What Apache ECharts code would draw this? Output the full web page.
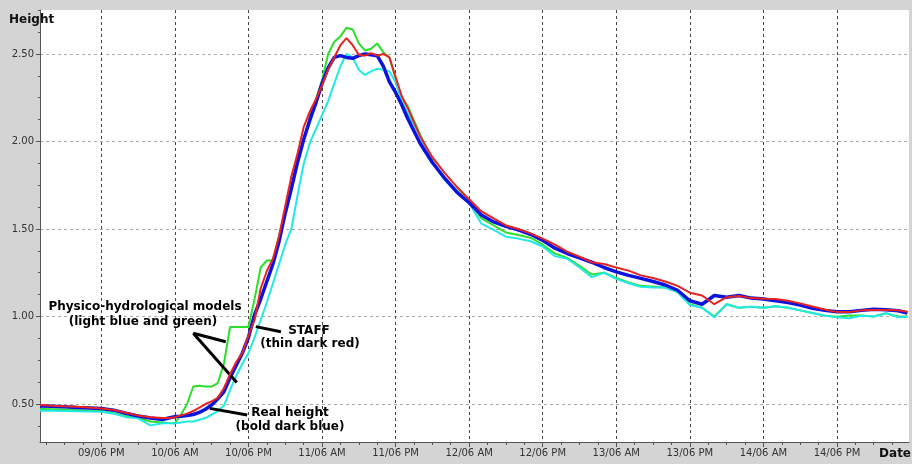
<!DOCTYPE html>
<html><head><meta charset="utf-8">
<script src="https://cdn.jsdelivr.net/npm/echarts@6/dist/echarts.min.js"></script>
<style>html,body{margin:0;padding:0;background:#d4d4d4}#c{width:912px;height:464px}</style>
</head><body><div id="c"></div>
<script>
// hours since 09/06 00:00
const hours = [2,4,6,8,10,12,14,16,18,20,22,
 23,24,25,26,27,28,29,30,31,32,33,34,35,36,37,38,39,40,41,42,43,44,45,46,47,48,49,50,51,52,53,54,55,56,57,58,59,60,61,62,
 64,66,68,70,72,74,76,78,80,82,84,86,88,90,92,94,96,98,100,102,104,106,108,110,112,114,116,118,120,122,124,126,128,130,132,134,136,138,140,142,143.5];

const realHeight = [0.489,0.487,0.484,0.480,0.477,0.474,0.465,0.447,0.432,0.420,0.412,
 0.420,0.428,0.430,0.435,0.440,0.452,0.470,0.495,0.530,0.570,
 0.650,0.720,0.790,0.880,1.010,1.100,1.200,1.300,1.430,1.590,
 1.730,1.880,2.010,2.120,2.220,2.330,2.420,2.480,2.490,2.480,
 2.475,2.490,2.500,2.495,2.490,2.430,2.340,2.280,2.210,2.130,
 1.990,1.880,1.790,1.710,1.650,1.580,1.540,1.515,1.495,1.470,
 1.435,1.390,1.360,1.335,1.310,1.280,1.255,1.235,1.218,1.200,
 1.180,1.150,1.090,1.070,1.120,1.110,1.120,1.105,1.100,1.090,
 1.080,1.065,1.047,1.035,1.027,1.027,1.035,1.041,1.038,1.033,
 1.020];

const staff = [0.494,0.490,0.487,0.485,0.480,0.475,0.466,0.450,0.435,0.425,0.420,
 0.420,0.425,0.435,0.445,0.460,0.480,0.500,0.515,0.535,0.590,
 0.670,0.740,0.790,0.890,0.980,1.160,1.260,1.330,1.460,1.630,
 1.800,1.930,2.080,2.170,2.240,2.320,2.410,2.480,2.550,2.590,
 2.550,2.495,2.490,2.505,2.490,2.500,2.480,2.370,2.260,2.190,
 2.030,1.910,1.820,1.740,1.670,1.600,1.560,1.520,1.500,1.475,
 1.445,1.410,1.370,1.342,1.310,1.300,1.280,1.262,1.235,1.220,
 1.200,1.175,1.136,1.120,1.070,1.110,1.117,1.105,1.102,1.100,
 1.090,1.075,1.057,1.040,1.025,1.025,1.035,1.037,1.037,1.035,
 1.027];

const modelLightBlue = [0.462,0.462,0.460,0.458,0.457,0.456,0.445,0.425,0.418,0.378,0.390,
 0.390,0.390,0.395,0.400,0.400,0.410,0.420,0.440,0.460,0.490,
 0.580,0.660,0.730,0.790,0.880,0.980,1.080,1.190,1.300,1.410,
 1.500,1.690,1.870,1.990,2.070,2.150,2.230,2.330,2.430,2.500,
 2.480,2.410,2.380,2.400,2.415,2.410,2.400,2.340,2.230,2.160,
 2.030,1.880,1.780,1.710,1.650,1.530,1.495,1.456,1.445,1.430,
 1.400,1.345,1.330,1.280,1.225,1.250,1.215,1.190,1.170,1.165,
 1.165,1.140,1.066,1.050,0.995,1.070,1.050,1.056,1.050,1.058,
 1.050,1.035,1.020,1.005,0.995,0.990,1.004,1.000,1.020,0.996,
 0.998];

const modelGreen = [0.471,0.470,0.468,0.465,0.462,0.460,0.448,0.430,0.420,0.400,0.395,
 0.392,0.390,0.440,0.500,0.600,0.605,0.600,0.600,0.620,0.730,
 0.940,0.940,0.940,0.940,1.100,1.280,1.320,1.320,1.460,1.600,
 1.730,1.870,2.010,2.140,2.240,2.350,2.500,2.570,2.600,2.650,
 2.640,2.560,2.520,2.530,2.560,2.510,2.480,2.360,2.250,2.200,
 2.040,1.890,1.790,1.720,1.660,1.560,1.520,1.480,1.465,1.450,
 1.410,1.360,1.335,1.290,1.240,1.250,1.220,1.195,1.175,1.170,
 1.165,1.140,1.070,1.050,1.000,1.070,1.050,1.056,1.050,1.058,
 1.050,1.035,1.020,1.005,0.998,1.006,1.005,1.000,1.018,1.000,
 1.000];

const xTickHours = [12,24,36,48,60,72,84,96,108,120,132];
const xTickLabels = ['09/06 PM','10/06 AM','10/06 PM','11/06 AM','11/06 PM','12/06 AM','12/06 PM','13/06 AM','13/06 PM','14/06 AM','14/06 PM'];
const xMinorHours = [3,6,9,15,18,21,27,30,33,39,42,45,51,54,57,63,66,69,75,78,81,87,90,93,99,102,105,111,114,117,123,126,129,135,138,141];
const yTickValues = [0.5,1.0,1.5,2.0,2.5];
const yMinorValues = [0.375,0.625,0.75,0.875,1.125,1.25,1.375,1.625,1.75,1.875,2.125,2.25,2.375,2.625,2.75];

// annotation pointers [hour, height]
const pointerLines = [
  [[27.0,0.904],[32.3,0.856]],
  [[27.0,0.904],[34.1,0.623]],
  [[37.2,0.942],[41.3,0.913]],
  [[29.7,0.475],[35.8,0.437]]
];
const annotationTexts = [
  ['Physico-hydrological models', 145, 307],
  ['(light blue and green)', 143, 322],
  ['STAFF', 309, 331],
  ['(thin dark red)', 310, 344],
  ['Real height', 290, 413],
  ['(bold dark blue)', 290, 427]
];

const X_MIN = 2, X_MAX = 143.75, Y_MIN = 0.283, Y_MAX = 2.751;
const FONT = '"DejaVu Sans", sans-serif';

function pairs(arr){ return hours.map((h,i)=>[h, arr[i]]); }

const chart = echarts.init(document.getElementById('c'), null, {renderer:'canvas'});
chart.setOption({
  animation:false,
  backgroundColor:'#d4d4d4',
  grid:{left:40, right:3, top:10, bottom:22, show:true, backgroundColor:'#ffffff', borderWidth:0},
  xAxis:[{
    type:'value', min:X_MIN, max:X_MAX, position:'bottom',
    axisLine:{show:true, onZero:false, lineStyle:{color:'#555', width:1}},
    axisTick:{show:true, customValues:xTickHours, length:5, lineStyle:{color:'#555'}},
    axisLabel:{show:true, customValues:xTickHours, margin:6, color:'#333', fontSize:10, fontFamily:FONT,
      formatter:(v)=>{const i = xTickHours.indexOf(v); return i>=0 ? xTickLabels[i] : '';}},
    splitLine:{show:true, lineStyle:{color:'#444', width:1, type:[3,3]}}
  },{
    type:'value', min:X_MIN, max:X_MAX, position:'bottom', gridIndex:0,
    axisLine:{show:false, onZero:false},
    axisTick:{show:true, customValues:xMinorHours, length:3, lineStyle:{color:'#555'}},
    axisLabel:{show:false}, splitLine:{show:false}
  }],
  yAxis:[{
    type:'value', min:Y_MIN, max:Y_MAX, position:'left',
    axisLine:{show:true, onZero:false, lineStyle:{color:'#555', width:1}},
    axisTick:{show:true, customValues:yTickValues, length:4, lineStyle:{color:'#555'}},
    axisLabel:{show:true, customValues:yTickValues, margin:6, color:'#333', fontSize:10, fontFamily:FONT,
      formatter:(v)=>v.toFixed(2)},
    splitLine:{show:true, lineStyle:{color:'#aaa', width:1, type:[3,3]}}
  },{
    type:'value', min:Y_MIN, max:Y_MAX, position:'left', gridIndex:0,
    axisLine:{show:false, onZero:false},
    axisTick:{show:true, customValues:yMinorValues, length:2, lineStyle:{color:'#555'}},
    axisLabel:{show:false}, splitLine:{show:false}
  }],
  series:[
    {name:'Green model', type:'line', data:pairs(modelGreen), symbol:'none', showSymbol:false,
      lineStyle:{color:'#2be02b', width:2}, z:2},
    {name:'Light blue model', type:'line', data:pairs(modelLightBlue), symbol:'none', showSymbol:false,
      lineStyle:{color:'#22e8e8', width:2}, z:3},
    {name:'Real height', type:'line', data:pairs(realHeight), symbol:'none', showSymbol:false,
      lineStyle:{color:'#0a14dc', width:3.5}, z:4},
    {name:'STAFF', type:'line', data:pairs(staff), symbol:'none', showSymbol:false,
      lineStyle:{color:'#e82222', width:2}, z:5,
      markLine:{silent:true, symbol:['none','none'], label:{show:false}, animation:false,
        lineStyle:{color:'#000', width:3, type:'solid'},
        emphasis:{disabled:true},
        data: pointerLines.map(p=>[{coord:p[0]},{coord:p[1]}])}
    }
  ],
  graphic:[
    {type:'text', x:9, y:20, z:100, style:{text:'Height', font:'bold 12px '+FONT, fill:'#111', align:'left', verticalAlign:'middle'}},
    {type:'text', x:911, y:454, z:100, style:{text:'Date', font:'bold 12px '+FONT, fill:'#111', align:'right', verticalAlign:'middle'}}
  ].concat(annotationTexts.map(t=>({type:'text', x:t[1], y:t[2], z:100,
    style:{text:t[0], font:'bold 12px '+FONT, fill:'#000', align:'center', verticalAlign:'middle'}})))
});
</script>
</body></html>
